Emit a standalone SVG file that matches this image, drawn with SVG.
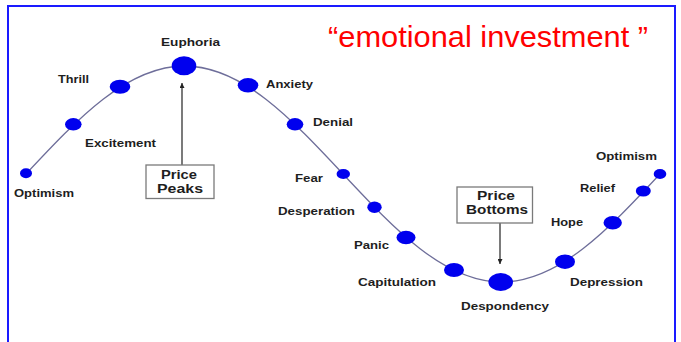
<svg xmlns="http://www.w3.org/2000/svg" width="681" height="342" viewBox="0 0 681 342">
<defs>
<style>
.lbl{font-family:"Liberation Sans",Arial,sans-serif;font-weight:bold;font-size:11.5px;fill:#1e1e1e}
.box{fill:#ffffff;stroke:#7a7a7a;stroke-width:1.3}
.boxt{font-family:"Liberation Sans",Arial,sans-serif;font-weight:bold;font-size:12.5px;fill:#1e1e1e;text-anchor:middle}
.dot{fill:#0000ee}
.curve{fill:none;stroke:#6e6e9a;stroke-width:1.3}
.arr{fill:none;stroke:#333333;stroke-width:1.3}
</style>
<marker id="ah" viewBox="0 0 10 10" refX="10" refY="5" markerWidth="5" markerHeight="5" orient="auto" markerUnits="userSpaceOnUse">
<path d="M0,0 L10,5 L0,10 z" fill="#222222"/>
</marker>
</defs>
<rect x="0" y="0" width="681" height="342" fill="#ffffff"/>
<rect x="8" y="6" width="667" height="360" fill="none" stroke="#1a1aff" stroke-width="2"/>
<text x="328" y="47" font-family="'Liberation Sans',Arial,sans-serif" font-size="30" fill="#ff0000" textLength="320" lengthAdjust="spacingAndGlyphs">“emotional investment ”</text>
<g id="connectors">
<path class="curve" d="M26,174 C77.7,118.7 127.1,66 184.5,66 S291.3,118.7 343,174 S444.1,282 501.5,282 S608.3,229.3 660,174"/>
<line class="arr" x1="182" y1="165" x2="182" y2="83" marker-end="url(#ah)"/>
<line class="arr" x1="500" y1="223" x2="500" y2="264" marker-end="url(#ah)"/>
</g>
<g id="optimism-left"><ellipse class="dot" cx="26" cy="173.3" rx="6" ry="5"/><text class="lbl" x="14" y="197" textLength="60" lengthAdjust="spacingAndGlyphs">Optimism</text></g>
<g id="excitement"><ellipse class="dot" cx="73.3" cy="124.3" rx="8.3" ry="6.2"/><text class="lbl" x="85" y="146.5" textLength="71" lengthAdjust="spacingAndGlyphs">Excitement</text></g>
<g id="thrill"><ellipse class="dot" cx="120" cy="86.7" rx="10.3" ry="7"/><text class="lbl" x="58" y="83" textLength="31" lengthAdjust="spacingAndGlyphs">Thrill</text></g>
<g id="euphoria"><ellipse class="dot" cx="184" cy="65.7" rx="12.3" ry="9.5"/><text class="lbl" x="161" y="45.5" textLength="59" lengthAdjust="spacingAndGlyphs">Euphoria</text></g>
<g id="anxiety"><ellipse class="dot" cx="248" cy="85.3" rx="10.3" ry="7.2"/><text class="lbl" x="266" y="88" textLength="47" lengthAdjust="spacingAndGlyphs">Anxiety</text></g>
<g id="denial"><ellipse class="dot" cx="295" cy="124.3" rx="8.3" ry="6.2"/><text class="lbl" x="313" y="126" textLength="40" lengthAdjust="spacingAndGlyphs">Denial</text></g>
<g id="fear"><ellipse class="dot" cx="343.3" cy="174" rx="6.7" ry="5"/><text class="lbl" x="295" y="181.5" textLength="28" lengthAdjust="spacingAndGlyphs">Fear</text></g>
<g id="desperation"><ellipse class="dot" cx="374.5" cy="207.3" rx="7.2" ry="5.7"/><text class="lbl" x="278" y="215" textLength="77" lengthAdjust="spacingAndGlyphs">Desperation</text></g>
<g id="panic"><ellipse class="dot" cx="406" cy="237.5" rx="9.5" ry="6.8"/><text class="lbl" x="354" y="249.3" textLength="35" lengthAdjust="spacingAndGlyphs">Panic</text></g>
<g id="capitulation"><ellipse class="dot" cx="454" cy="270" rx="10" ry="7"/><text class="lbl" x="358" y="286.3" textLength="78" lengthAdjust="spacingAndGlyphs">Capitulation</text></g>
<g id="despondency"><ellipse class="dot" cx="500.7" cy="282" rx="12.3" ry="9"/><text class="lbl" x="461" y="309.7" textLength="88" lengthAdjust="spacingAndGlyphs">Despondency</text></g>
<g id="depression"><ellipse class="dot" cx="565" cy="261.7" rx="10" ry="7.2"/><text class="lbl" x="570" y="286.3" textLength="73" lengthAdjust="spacingAndGlyphs">Depression</text></g>
<g id="hope"><ellipse class="dot" cx="612.7" cy="222.7" rx="9.2" ry="6.8"/><text class="lbl" x="551" y="226" textLength="32" lengthAdjust="spacingAndGlyphs">Hope</text></g>
<g id="relief"><ellipse class="dot" cx="643.3" cy="191" rx="7.5" ry="5.5"/><text class="lbl" x="580" y="191.7" textLength="35" lengthAdjust="spacingAndGlyphs">Relief</text></g>
<g id="optimism-right"><ellipse class="dot" cx="660" cy="174" rx="6.3" ry="5"/><text class="lbl" x="596" y="159.5" textLength="61" lengthAdjust="spacingAndGlyphs">Optimism</text></g>
<g id="price-peaks"><rect class="box" x="146" y="165" width="68" height="33.5"/><text class="boxt" x="179" y="178.5" textLength="36" lengthAdjust="spacingAndGlyphs">Price</text><text class="boxt" x="180" y="192.5" textLength="46" lengthAdjust="spacingAndGlyphs">Peaks</text></g>
<g id="price-bottoms"><rect class="box" x="457" y="187" width="75.5" height="36"/><text class="boxt" x="496" y="199.5" textLength="38" lengthAdjust="spacingAndGlyphs">Price</text><text class="boxt" x="497" y="214" textLength="62" lengthAdjust="spacingAndGlyphs">Bottoms</text></g>
</svg>
